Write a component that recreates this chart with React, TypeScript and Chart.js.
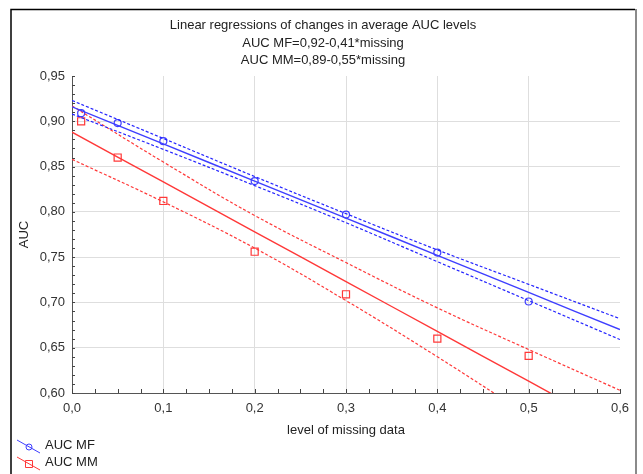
import React, { useEffect, useRef } from "react";
import { Chart, registerables } from "chart.js";

Chart.register(...registerables);

// ---- data ----
const missingLevels = [0.01, 0.05, 0.1, 0.2, 0.3, 0.4, 0.5];
const aucMF = [0.909, 0.898, 0.878, 0.834, 0.797, 0.755, 0.701];
const aucMM = [0.9, 0.86, 0.812, 0.756, 0.709, 0.66, 0.641];

// regression / confidence-band curves sampled at these x values
const fitX = [0, 0.1, 0.2, 0.3, 0.4, 0.5, 0.6];
const fitMF = [0.916, 0.875, 0.834, 0.793, 0.752, 0.711, 0.67];
const fitMFUpper = [0.923, 0.881, 0.839, 0.798, 0.758, 0.72, 0.682];
const fitMFLower = [0.908, 0.869, 0.829, 0.788, 0.745, 0.702, 0.659];
const fitMM = [0.888, 0.833, 0.778, 0.723, 0.668, 0.613, 0.558];
const fitMMUpper = [0.917, 0.855, 0.796, 0.744, 0.694, 0.648, 0.603];
const fitMMLower = [0.858, 0.811, 0.76, 0.702, 0.64, 0.575, 0.51];

const titleLines = [
  "Linear regressions of changes in average AUC levels",
  "AUC MF=0,92-0,41*missing",
  "AUC MM=0,89-0,55*missing",
];
const xTitle = "level of missing data";
const yTitle = "AUC";
const seriesNames = ["AUC MF", "AUC MM"];

const BLUE = "#3e3eff";
const BLUE_D = "#2424ff";
const RED = "#ff3838";
const FONT = "'Liberation Sans', Arial, sans-serif";

const pts = (xs: number[], ys: number[]) => xs.map((x, i) => ({ x, y: ys[i] }));

const decor = {
  id: "decor",
  beforeDraw(chart: any) {
    const ctx = chart.ctx;
    ctx.save();
    ctx.fillStyle = "#ffffff";
    ctx.fillRect(0, 0, chart.width, chart.height);
    ctx.restore();
  },
  afterDatasetsDraw(chart: any) {
    const ctx = chart.ctx;
    const xs = chart.scales.x;
    const ys = chart.scales.y;
    const a = chart.chartArea;
    ctx.save();
    // minor ticks
    ctx.strokeStyle = "#444";
    ctx.lineWidth = 1;
    ctx.beginPath();
    for (let i = 0; i <= 24; i++) {
      const px = Math.round(xs.getPixelForValue(i * 0.025)) + 0.5;
      ctx.moveTo(px, a.bottom);
      ctx.lineTo(px, a.bottom - 4);
    }
    for (let i = 0; i <= 35; i++) {
      const py = Math.round(ys.getPixelForValue(0.6 + i * 0.01)) + 0.5;
      ctx.moveTo(a.left, py);
      ctx.lineTo(a.left + 3, py);
    }
    ctx.stroke();
    ctx.restore();
  },
  afterDraw(chart: any) {
    const ctx = chart.ctx;
    const a = chart.chartArea;
    ctx.save();
    // frame
    ctx.strokeStyle = "#000";
    ctx.lineWidth = 1.5;
    ctx.beginPath();
    ctx.moveTo(11, 474);
    ctx.lineTo(11, 9.5);
    ctx.lineTo(635, 9.5);
    ctx.stroke();
    ctx.strokeStyle = "#8a8a8a";
    ctx.lineWidth = 2;
    ctx.beginPath();
    ctx.moveTo(636, 9);
    ctx.lineTo(636, 474);
    ctx.stroke();

    // title
    ctx.fillStyle = "#222";
    ctx.font = `13px ${FONT}`;
    ctx.textAlign = "center";
    ctx.textBaseline = "middle";
    const ty = [25, 43, 60];
    titleLines.forEach((t, i) => ctx.fillText(t, 323, ty[i]));

    // axis titles
    ctx.fillText(xTitle, (a.left + a.right) / 2, 430);
    ctx.save();
    ctx.translate(24, (a.top + a.bottom) / 2);
    ctx.rotate(-Math.PI / 2);
    ctx.fillText(yTitle, 0, 0);
    ctx.restore();

    // legend
    ctx.textAlign = "left";
    const rows = [
      { y: 446, color: BLUE, shape: "circle" },
      { y: 463, color: RED, shape: "rect" },
    ];
    rows.forEach((r, i) => {
      ctx.strokeStyle = r.color;
      ctx.lineWidth = 1;
      ctx.beginPath();
      ctx.moveTo(17, r.y - 6);
      ctx.lineTo(40, r.y + 7);
      ctx.stroke();
      ctx.beginPath();
      if (r.shape === "circle") ctx.arc(29, r.y + 1, 3, 0, Math.PI * 2);
      else ctx.rect(25.5, r.y - 2.5, 7, 7);
      ctx.stroke();
      ctx.fillStyle = "#222";
      ctx.fillText(seriesNames[i], 45, r.y - 1);
    });
    ctx.restore();
  },
};

export default function App() {
  const ref = useRef<HTMLCanvasElement | null>(null);
  useEffect(() => {
    document.body.style.margin = "0";
    const canvas = ref.current!;
    const lineDs = (data: any, color: string, dash: number[] = [], width = 1.4) => ({
      data,
      showLine: true,
      borderColor: color,
      borderWidth: width,
      borderDash: dash,
      pointRadius: 0,
      tension: 0.4,
      fill: false,
    });
    const chart = new Chart(canvas, {
      type: "scatter",
      data: {
        datasets: [
          lineDs(pts(fitX, fitMF), BLUE),
          lineDs(pts(fitX, fitMFUpper), BLUE_D, [3, 2], 1.2),
          lineDs(pts(fitX, fitMFLower), BLUE_D, [3, 2], 1.2),
          lineDs(pts(fitX, fitMM), RED),
          lineDs(pts(fitX, fitMMUpper), RED, [3, 2], 1.2),
          lineDs(pts(fitX, fitMMLower), RED, [3, 2], 1.2),
          {
            label: seriesNames[0],
            data: pts(missingLevels, aucMF),
            pointStyle: "circle",
            pointRadius: 3.5,
            borderColor: BLUE,
            backgroundColor: "rgba(0,0,0,0)",
            borderWidth: 1.2,
          },
          {
            label: seriesNames[1],
            data: pts(missingLevels, aucMM),
            pointStyle: "rect",
            pointRadius: 5,
            borderColor: RED,
            backgroundColor: "rgba(0,0,0,0)",
            borderWidth: 1.2,
          },
        ] as any,
      },
      options: {
        responsive: false,
        animation: false,
        devicePixelRatio: 1,
        layout: { padding: { left: 0, top: 76, right: 23, bottom: 0 } },
        plugins: { legend: { display: false }, title: { display: false }, tooltip: { enabled: false } },
        scales: {
          x: {
            type: "linear",
            min: 0,
            max: 0.6,
            afterFit: (s: any) => {
              s.height = 81;
            },
            border: { color: "#555", width: 1 },
            grid: {
              drawTicks: false,
              color: (c: any) => (c.tick && (c.tick.value <= 0.0001 || c.tick.value >= 0.5999) ? "rgba(0,0,0,0)" : "#dedede"),
              lineWidth: 1,
            },
            ticks: {
              stepSize: 0.1,
              padding: 8,
              color: "#333",
              font: { family: FONT, size: 13 },
              maxRotation: 0,
              autoSkip: false,
              callback: (v: any) => Number(v).toFixed(1).replace(".", ","),
            },
          },
          y: {
            type: "linear",
            min: 0.6,
            max: 0.95,
            afterFit: (s: any) => {
              s.width = 72;
            },
            border: { color: "#555", width: 1 },
            grid: {
              drawTicks: false,
              color: (c: any) => (c.tick && (c.tick.value <= 0.6001 || c.tick.value >= 0.9499) ? "rgba(0,0,0,0)" : "#dedede"),
              lineWidth: 1,
            },
            ticks: {
              stepSize: 0.05,
              padding: 7,
              color: "#333",
              font: { family: FONT, size: 13 },
              autoSkip: false,
              callback: (v: any) => Number(v).toFixed(2).replace(".", ","),
            },
          },
        },
      } as any,
      plugins: [decor],
    });
    return () => chart.destroy();
  }, []);
  return (
    <div style={{ position: "absolute", left: 0, top: 0, width: 643, height: 474 }}>
      <canvas ref={ref} width={643} height={474} style={{ display: "block" }} />
    </div>
  );
}
